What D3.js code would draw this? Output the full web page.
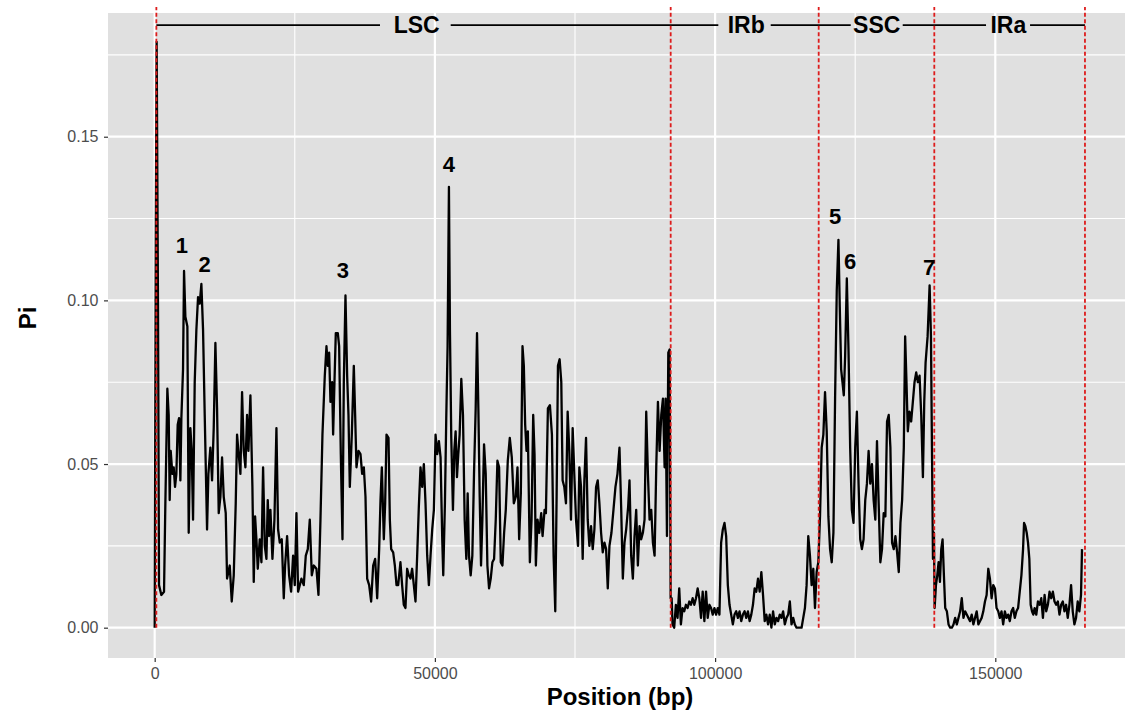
<!DOCTYPE html>
<html>
<head>
<meta charset="utf-8">
<script src="https://cdn.jsdelivr.net/npm/d3@7"></script>
<style>
  body { margin: 0; background: #fff; }
  svg { display: block; font-family: "Liberation Sans", Arial, sans-serif; }
</style>
</head>
<body>
<div id="chart"></div>
<script>
// sliding window Pi, [position (bp), Pi]
var lscData = [[0,0.000],[200,0.120],[350,0.179],[595,0.097],[774,0.013],[1190,0.010],[1667,0.011],[1905,0.038],[2262,0.073],[2500,0.065],[2678,0.039],[2857,0.054],[3155,0.047],[3393,0.049],[3631,0.043],[3869,0.047],[4107,0.062],[4345,0.064],[4583,0.045],[4762,0.064],[5059,0.079],[5238,0.109],[5476,0.095],[5833,0.092],[6071,0.029],[6369,0.061],[6607,0.054],[6845,0.033],[7143,0.075],[7440,0.091],[7738,0.101],[8035,0.099],[8333,0.105],[8631,0.091],[8928,0.065],[9345,0.030],[9583,0.047],[9940,0.055],[10237,0.045],[10535,0.061],[10833,0.087],[11130,0.067],[11428,0.035],[11725,0.040],[12023,0.052],[12321,0.040],[12678,0.035],[12916,0.015],[13392,0.019],[13749,0.008],[14106,0.016],[14463,0.038],[14701,0.059],[14940,0.054],[15297,0.047],[15594,0.072],[15892,0.054],[16189,0.049],[16487,0.065],[16725,0.054],[17082,0.071],[17439,0.043],[17677,0.014],[17916,0.034],[18154,0.027],[18392,0.018],[18749,0.027],[19046,0.020],[19344,0.049],[19642,0.025],[19939,0.021],[20177,0.039],[20415,0.028],[20653,0.036],[21011,0.021],[21368,0.033],[21725,0.061],[22022,0.030],[22320,0.026],[22677,0.027],[23034,0.009],[23272,0.019],[23629,0.028],[23986,0.016],[24344,0.011],[24701,0.022],[24998,0.013],[25296,0.035],[25594,0.011],[25891,0.013],[26189,0.015],[26605,0.013],[26963,0.022],[27320,0.024],[27677,0.033],[28034,0.016],[28391,0.019],[28867,0.018],[29224,0.010],[29581,0.033],[29938,0.059],[30355,0.077],[30653,0.086],[30891,0.080],[31129,0.084],[31367,0.069],[31665,0.075],[31843,0.059],[32081,0.075],[32319,0.090],[32676,0.090],[32915,0.086],[33212,0.053],[33510,0.027],[33748,0.075],[34045,0.1015],[34343,0.077],[34581,0.065],[34819,0.043],[35176,0.059],[35533,0.080],[35771,0.065],[36010,0.049],[36367,0.054],[36724,0.053],[37021,0.047],[37319,0.049],[37617,0.040],[37914,0.015],[38271,0.013],[38628,0.008],[38986,0.019],[39343,0.021],[39700,0.009],[40057,0.024],[40295,0.039],[40533,0.049],[40890,0.027],[41128,0.038],[41366,0.059],[41724,0.058],[41962,0.033],[42200,0.024],[42557,0.023],[42854,0.019],[43152,0.013],[43450,0.013],[43854,0.020],[44152,0.013],[44451,0.007],[44749,0.006],[45047,0.018],[45346,0.016],[45644,0.015],[45942,0.018],[46241,0.013],[46539,0.008],[46838,0.022],[47136,0.037],[47434,0.049],[47733,0.043],[48031,0.050],[48329,0.038],[48628,0.022],[48926,0.013],[49224,0.022],[49523,0.030],[49821,0.036],[50119,0.059],[50418,0.053],[50716,0.057],[51014,0.052],[51313,0.027],[51492,0.016],[51790,0.038],[52029,0.064],[52267,0.086],[52506,0.1347],[52685,0.091],[52924,0.058],[53222,0.036],[53461,0.054],[53700,0.060],[53938,0.046],[54177,0.053],[54416,0.059],[54714,0.076],[55012,0.065],[55311,0.033],[55609,0.021],[55848,0.041],[56086,0.022],[56385,0.016],[56683,0.022],[56981,0.047],[57280,0.067],[57518,0.090],[57757,0.067],[57996,0.040],[58234,0.019],[58473,0.033],[58771,0.056],[59070,0.047],[59368,0.019],[59667,0.012],[59965,0.015],[60263,0.020],[60562,0.021],[60860,0.033],[61158,0.051],[61457,0.049],[61755,0.020],[62053,0.019],[62352,0.029],[62650,0.036],[63008,0.051],[63366,0.058],[63724,0.052],[64082,0.038],[64440,0.040],[64738,0.049],[65037,0.027],[65335,0.041],[65634,0.086],[65872,0.080],[66111,0.062],[66350,0.054],[66589,0.060],[66946,0.020],[67245,0.033],[67543,0.065],[67782,0.053],[68020,0.019],[68319,0.033],[68617,0.029],[68975,0.035],[69214,0.028],[69572,0.036],[69810,0.035],[70168,0.067],[70526,0.068],[70884,0.059],[71183,0.022],[71481,0.005],[71720,0.040],[71959,0.080],[72257,0.082],[72555,0.075],[72794,0.045],[73092,0.043],[73391,0.038],[73689,0.066],[73987,0.054],[74286,0.033],[74584,0.061],[74942,0.044],[75181,0.033],[75539,0.025],[75777,0.049],[76076,0.043],[76374,0.021],[76672,0.045],[76971,0.058],[77269,0.033],[77568,0.025],[77866,0.031],[78164,0.024],[78463,0.030],[78761,0.043],[79059,0.045],[79358,0.038],[79656,0.029],[79954,0.023],[80253,0.026],[80551,0.024],[80850,0.012],[81148,0.025],[81506,0.029],[81864,0.036],[82222,0.043],[82580,0.047],[82938,0.055],[83236,0.037],[83535,0.015],[83833,0.026],[84131,0.030],[84489,0.037],[84728,0.045],[85026,0.022],[85325,0.015],[85623,0.028],[85921,0.036],[86220,0.019],[86518,0.031],[86816,0.027],[87115,0.029],[87413,0.033],[87711,0.066],[88010,0.047],[88308,0.033],[88606,0.036],[88905,0.026],[89203,0.022],[89501,0.049],[89800,0.069],[90098,0.054],[90396,0.065],[90695,0.070],[90993,0.049],[91172,0.070],[91411,0.028],[91650,0.084],[91888,0.085],[92067,0.009]];
var irbData = [[92250,0.009],[92404,0.001],[92703,0.000],[93002,0.007],[93301,0.003],[93600,0.012],[93899,0.001],[94198,0.006],[94497,0.005],[94796,0.007],[95096,0.006],[95395,0.008],[95694,0.007],[95993,0.009],[96292,0.007],[96591,0.009],[96890,0.012],[97189,0.009],[97488,0.003],[97787,0.011],[98086,0.002],[98385,0.011],[98684,0.003],[98983,0.007],[99282,0.006],[99581,0.004],[99880,0.006],[100179,0.004],[100478,0.006],[100777,0.004],[101077,0.026],[101376,0.030],[101675,0.032],[101974,0.028],[102273,0.013],[102572,0.007],[102871,0.004],[103170,0.001],[103469,0.004],[103768,0.005],[104067,0.003],[104366,0.005],[104665,0.002],[104964,0.004],[105263,0.005],[105562,0.003],[105861,0.005],[106160,0.002],[106459,0.004],[106758,0.007],[107058,0.012],[107357,0.011],[107656,0.015],[107955,0.011],[108254,0.017],[108553,0.010],[108852,0.002],[109151,0.004],[109450,0.001],[109749,0.004],[110048,0.000],[110347,0.005],[110646,0.001],[110945,0.003],[111244,0.002],[111543,0.004],[111842,0.003],[112141,0.005],[112440,0.001],[112740,0.003],[113039,0.004],[113338,0.008],[113637,0.001],[113936,0.003],[114235,0.001],[114534,0.000],[114833,0.000],[115132,0.000],[115431,0.000],[115730,0.003],[116029,0.006],[116328,0.013],[116627,0.028],[116926,0.022],[117225,0.013],[117524,0.018],[117823,0.006],[118122,0.017],[118421,0.020]];
var sscData = [[118721,0.034],[119020,0.055],[119319,0.059],[119618,0.072],[119917,0.060],[120216,0.034],[120515,0.024],[120814,0.020],[121113,0.029],[121412,0.070],[121711,0.103],[122010,0.1185],[122249,0.098],[122489,0.079],[122728,0.075],[122967,0.071],[123206,0.083],[123505,0.1067],[123804,0.085],[124103,0.055],[124403,0.036],[124702,0.032],[125001,0.055],[125300,0.066],[125599,0.044],[125898,0.027],[126197,0.024],[126496,0.027],[126795,0.039],[127094,0.044],[127393,0.054],[127692,0.044],[127991,0.050],[128290,0.039],[128589,0.033],[128888,0.057],[129187,0.038],[129487,0.020],[129786,0.024],[130085,0.035],[130384,0.034],[130683,0.063],[130982,0.065],[131281,0.055],[131580,0.026],[131879,0.024],[132178,0.028],[132477,0.023],[132776,0.017],[133075,0.032],[133374,0.039],[133673,0.055],[133912,0.089],[134152,0.075],[134391,0.060],[134690,0.066],[134989,0.063],[135288,0.069],[135587,0.075],[135886,0.078],[136185,0.075],[136484,0.077],[136783,0.065],[137082,0.046],[137322,0.069],[137561,0.081],[137920,0.089],[138278,0.1046],[138518,0.089],[138697,0.055],[138877,0.021],[139050,0.029]];
var iraData = [[139174,0.006],[139410,0.013],[139647,0.016],[139883,0.020],[140120,0.014],[140356,0.024],[140592,0.027],[140829,0.016],[141065,0.006],[141360,0.005],[141656,0.001],[141951,0.000],[142247,0.000],[142542,0.001],[142838,0.003],[143133,0.001],[143429,0.003],[143724,0.005],[144020,0.009],[144315,0.003],[144611,0.005],[144906,0.004],[145202,0.003],[145497,0.002],[145793,0.004],[146088,0.001],[146384,0.003],[146679,0.005],[146975,0.001],[147270,0.002],[147566,0.003],[147861,0.005],[148157,0.008],[148452,0.010],[148748,0.018],[149043,0.015],[149339,0.009],[149634,0.013],[149930,0.012],[150225,0.006],[150521,0.005],[150816,0.003],[151112,0.005],[151407,0.001],[151703,0.005],[151998,0.003],[152294,0.004],[152589,0.002],[152885,0.005],[153180,0.006],[153476,0.003],[153771,0.005],[154067,0.006],[154362,0.011],[154658,0.016],[154953,0.024],[155130,0.032],[155366,0.031],[155602,0.029],[155839,0.026],[156075,0.021],[156311,0.007],[156548,0.005],[156784,0.004],[157020,0.006],[157316,0.004],[157611,0.008],[157907,0.007],[158202,0.009],[158498,0.003],[158793,0.010],[159089,0.005],[159384,0.007],[159680,0.011],[159975,0.009],[160271,0.011],[160566,0.008],[160862,0.007],[161157,0.008],[161453,0.004],[161748,0.007],[162044,0.008],[162339,0.005],[162635,0.007],[162930,0.003],[163226,0.007],[163521,0.013],[163817,0.005],[164112,0.001],[164408,0.003],[164703,0.008],[164999,0.005],[165294,0.010],[165472,0.024]];

var regionNames = ["LSC", "IRb", "SSC", "IRa"];
var regionLabelPos = [46750, 105550, 128840, 152330];
var regionBounds = [300, 92077, 118487, 139115, 166000];
var barSegments = [[300, 40205], [52822, 100575], [109925, 124200], [133480, 148345], [156200, 166000]];

var peakNames = ["1", "2", "3", "4", "5", "6", "7"];
var peakPos = [[4836, 0.1169], [8922, 0.1110], [33584, 0.1093], [52518, 0.1415], [121400, 0.1258], [124111, 0.1120], [138174, 0.1102]];

var xTicks = [0, 50000, 100000, 150000];
var xMinor = [25000, 75000, 125000];
var yTicks = [0, 0.05, 0.10, 0.15];
var yMinor = [0.025, 0.075, 0.125, 0.175];

(function() {

  var width = 1125;
  var height = 716;
  var panel = {left: 108, right: 1125, top: 13, bottom: 658};
  var barY = 0.1841;          // level of the region bar
  var redTop = 0.1896;        // dashed boundary lines run a bit past the panel

  var data = lscData.concat(irbData, sscData, iraData);

  var x = d3.scaleLinear()
    .domain([-8330, 173144])
    .range([panel.left, panel.right]);

  var y = d3.scaleLinear()
    .domain([-0.00926, 0.1878])
    .range([panel.bottom, panel.top]);

  var svg = d3.select("#chart")
    .append("svg")
      .attr("width", width)
      .attr("height", height);

  svg.append("rect")
      .attr("x", panel.left)
      .attr("y", panel.top)
      .attr("width", panel.right - panel.left)
      .attr("height", panel.bottom - panel.top)
      .attr("fill", "#e0e0e0");

  // grid
  var grid = svg.append("g").attr("stroke", "#fff");
  grid.selectAll(".ymin").data(yMinor).join("line")
      .attr("x1", panel.left).attr("x2", panel.right)
      .attr("y1", d => y(d)).attr("y2", d => y(d))
      .attr("stroke-width", 1.1);
  grid.selectAll(".xmin").data(xMinor).join("line")
      .attr("y1", panel.top).attr("y2", panel.bottom)
      .attr("x1", d => x(d)).attr("x2", d => x(d))
      .attr("stroke-width", 1.1);
  grid.selectAll(".ymaj").data(yTicks).join("line")
      .attr("x1", panel.left).attr("x2", panel.right)
      .attr("y1", d => y(d)).attr("y2", d => y(d))
      .attr("stroke-width", 2.2);
  grid.selectAll(".xmaj").data(xTicks).join("line")
      .attr("y1", panel.top).attr("y2", panel.bottom)
      .attr("x1", d => x(d)).attr("x2", d => x(d))
      .attr("stroke-width", 2.2);

  // Pi line
  var line = d3.line()
    .x(d => x(d[0]))
    .y(d => y(d[1]));

  svg.append("path")
      .datum(data)
      .attr("fill", "none")
      .attr("stroke", "#000")
      .attr("stroke-width", 2.3)
      .attr("stroke-linejoin", "round")
      .attr("d", line);

  // region bar
  svg.append("g")
      .attr("stroke", "#000")
      .attr("stroke-width", 1.6)
    .selectAll("line")
    .data(barSegments)
    .join("line")
      .attr("x1", d => x(d[0]))
      .attr("x2", d => x(d[1]))
      .attr("y1", y(barY))
      .attr("y2", y(barY));

  svg.append("g")
    .selectAll("text")
    .data(regionNames)
    .join("text")
      .attr("x", (d, i) => x(regionLabelPos[i]))
      .attr("y", y(barY))
      .attr("dy", "0.36em")
      .attr("text-anchor", "middle")
      .attr("font-size", 23)
      .attr("font-weight", "bold")
      .text(d => d);

  // boundaries
  svg.append("g")
      .attr("stroke", "#dd1c1c")
      .attr("stroke-width", 1.8)
      .attr("stroke-dasharray", "4,2.5")
    .selectAll("line")
    .data(regionBounds)
    .join("line")
      .attr("x1", d => x(d))
      .attr("x2", d => x(d))
      .attr("y1", y(0))
      .attr("y2", y(redTop));

  // peak labels
  svg.append("g")
    .selectAll("text")
    .data(peakNames)
    .join("text")
      .attr("x", (d, i) => x(peakPos[i][0]))
      .attr("y", (d, i) => y(peakPos[i][1]))
      .attr("dy", "0.36em")
      .attr("text-anchor", "middle")
      .attr("font-size", 22)
      .attr("font-weight", "bold")
      .text(d => d);

  // axes
  var xAxis = function(g) {
    g.attr("transform", `translate(0,${panel.bottom})`)
      .call(d3.axisBottom(x).tickValues(xTicks).tickFormat(d3.format("d")).tickSize(4).tickPadding(5.5))
      .call(g => g.select(".domain").remove());
  };
  var yAxis = function(g) {
    g.attr("transform", `translate(${panel.left},0)`)
      .call(d3.axisLeft(y).tickValues(yTicks).tickFormat(d3.format(".2f")).tickSize(4).tickPadding(5.5))
      .call(g => g.select(".domain").remove());
  };

  svg.append("g").call(xAxis);
  svg.append("g").call(yAxis);

  svg.selectAll(".tick line").attr("stroke", "#333").attr("stroke-width", 1.2);
  svg.selectAll(".tick text")
      .attr("fill", "#4d4d4d")
      .attr("font-size", 16)
      .attr("font-family", "Liberation Sans, Arial, sans-serif");

  svg.append("text")
      .attr("x", 620)
      .attr("y", 705)
      .attr("text-anchor", "middle")
      .attr("font-size", 24)
      .attr("font-weight", "bold")
      .text("Position (bp)");

  svg.append("text")
      .attr("transform", "translate(36,318) rotate(-90)")
      .attr("text-anchor", "middle")
      .attr("font-size", 24)
      .attr("font-weight", "bold")
      .text("Pi");

})();
</script>
</body>
</html>
